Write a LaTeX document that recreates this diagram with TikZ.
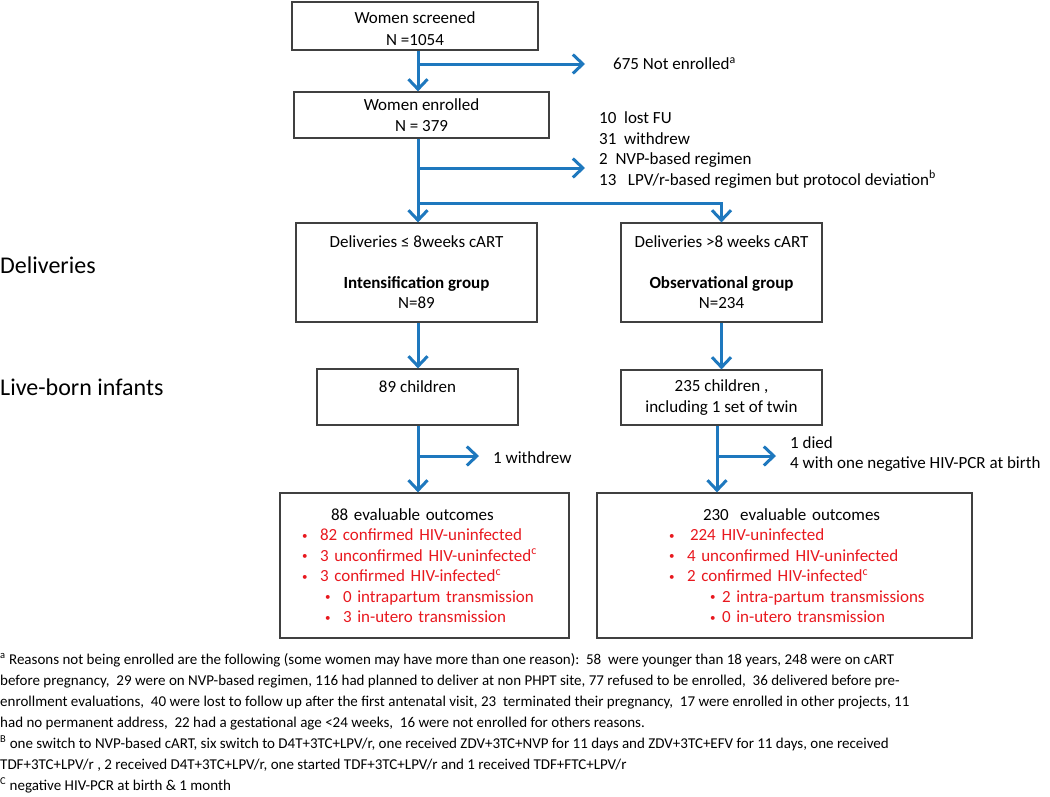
\documentclass[tikz,border=0pt]{standalone}
\usepackage{fontspec}
\setmainfont{Carlito}
\usepackage{tikz}
\usetikzlibrary{positioning,arrows.meta}
\definecolor{flowblue}{RGB}{30,120,190}
\definecolor{outred}{RGB}{232,24,30}
\newcommand{\itm}[3]{\hspace*{#1}\textcolor{outred}{\makebox[#2][l]{\raisebox{1.5pt}{\fontsize{11}{11}\selectfont\textbullet}}#3}}

\begin{document}
\begin{tikzpicture}[x=1pt,y=-1pt,
        box/.style={draw=black!75,line width=1.2pt,align=center,inner sep=0pt,font=\fontsize{17}{20.5}\selectfont},
        flow/.style={draw=flowblue,line width=3pt,-{Straight Barb[length=10pt,width=19pt]}},
        side/.style={anchor=west,align=left,inner xsep=14pt,inner ysep=0pt,font=\fontsize{17}{20.5}\selectfont},
        stage/.style={anchor=west,inner sep=0pt,font=\fontsize{24}{28}\selectfont}]
        \useasboundingbox (0,0) rectangle (1050,796);

        \node (A) at (415,26) [box,minimum width=246,minimum height=48] {\\[-3pt]Women screened\\[1.5pt]N =1054};
        \node (B) at (421.5,115) [box,minimum width=255,minimum height=46] {Women enrolled\\N = 379};
        \node (C) at (416.5,272.5) [box,minimum width=241,minimum height=99] {Deliveries ≤ 8weeks cART\\[20pt]\textbf{Intensification group}\\N=89};
        \node (D) at (721.5,272.5) [box,minimum width=201,minimum height=99] {Deliveries >8 weeks cART\\[20pt]\textbf{Observational group}\\N=234};
        \node (E) at (417.5,397) [box,minimum width=201,minimum height=56] {89 children\\ \phantom{x}};
        \node (F) at (721.5,397.5) [box,minimum width=201,minimum height=55] {235 children ,\\ including 1 set of twin};
        \node (G) at (424.5,565.5) [box,minimum width=289,minimum height=145,text width=265,align=left] {%
                \hspace*{39pt}88 evaluable outcomes\\
                \itm{10pt}{18pt}{82 confirmed HIV-uninfected}\\
                \itm{10pt}{18pt}{3 unconfirmed HIV-uninfected\textsuperscript{c}}\\
                \itm{10pt}{18pt}{3 confirmed HIV-infected\textsuperscript{c}}\\
                \itm{33pt}{18pt}{0 intrapartum transmission}\\
                \itm{33pt}{18pt}{3 in-utero transmission}};
        \node (H) at (784.5,565.5) [box,minimum width=375,minimum height=145,text width=355,align=left] {%
                \hspace*{96pt}230\ \ evaluable outcomes\\
                \itm{62pt}{21pt}{224 HIV-uninfected}\\
                \itm{62pt}{18pt}{4 unconfirmed HIV-uninfected}\\
                \itm{62pt}{18pt}{2 confirmed HIV-infected\textsuperscript{c}}\\
                \itm{103pt}{12pt}{2 intra-partum transmissions}\\
                \itm{103pt}{12pt}{0 in-utero transmission}};

        \node (notenr) at (599,64) [side] {675 Not enrolled\textsuperscript{a}};
        \node (lost) at (585,150) [side] {10\ \ lost FU\\31\ \ withdrew\\2\ \ NVP-based regimen\\13\ \ \ LPV/r-based regimen but protocol deviation\textsuperscript{b}};
        \node (withdrew) at (479,458) [side] {1 withdrew};
        \node (died) at (776,454) [side] {1 died\\4 with one negative HIV-PCR at birth};

        \node (deliv) at (0,265) [stage] {Deliveries};
        \node (infants) at (0,387) [stage] {Live-born infants};

        \coordinate (j1) at (418,64);
        \coordinate (j2) at (418,168);
        \coordinate (j3) at (418,203);
        \coordinate (j5) at (418,456);
        \coordinate (j6) at (717,456);

        \draw[flow] (A.south -| j1) -- (B.north -| j1);
        \draw[flow,shorten >=14pt] (j1) -- (notenr.west);
        \draw[flow] (B.south -| j1) -- (C.north -| j1);
        \draw[flow] (j2) -- (j2 -| lost.west);
        \draw[flow] (j3) -| (D.north);
        \draw[flow] (C.south -| j1) -- (E.north -| j1);
        \draw[flow] (E.south -| j1) -- (G.north -| j1);
        \draw[flow] (j5) -- (withdrew.west |- j5);
        \draw[flow] (D.south) -- (F.north);
        \draw[flow] (F.south -| j6) -- (H.north -| j6);
        \draw[flow] (j6) -- (j6 -| died.west);

        \node (notes) at (0,653) [anchor=north west,align=left,inner sep=0pt,font=\fontsize{15}{21}\selectfont] {%
                \textsuperscript{a} Reasons not being enrolled are the following (some women may have more than one reason):\ \ 58\ \ were younger than 18 years, 248 were on cART\\
                before pregnancy,\ \ 29 were on NVP-based regimen, 116 had planned to deliver at non PHPT site, 77 refused to be enrolled,\ \ 36 delivered before pre-\\
                enrollment evaluations,\ \ 40 were lost to follow up after the first antenatal visit, 23\ \ terminated their pregnancy,\ \ 17 were enrolled in other projects, 11\\
                had no permanent address,\ \ 22 had a gestational age <24 weeks,\ \ 16 were not enrolled for others reasons.\\
                \textsuperscript{B} one switch to NVP-based cART, six switch to D4T+3TC+LPV/r, one received ZDV+3TC+NVP for 11 days and ZDV+3TC+EFV for 11 days, one received\\
                TDF+3TC+LPV/r , 2 received D4T+3TC+LPV/r, one started TDF+3TC+LPV/r and 1 received TDF+FTC+LPV/r\\
                \textsuperscript{C} negative HIV-PCR at birth \& 1 month};
\end{tikzpicture}
\end{document}
